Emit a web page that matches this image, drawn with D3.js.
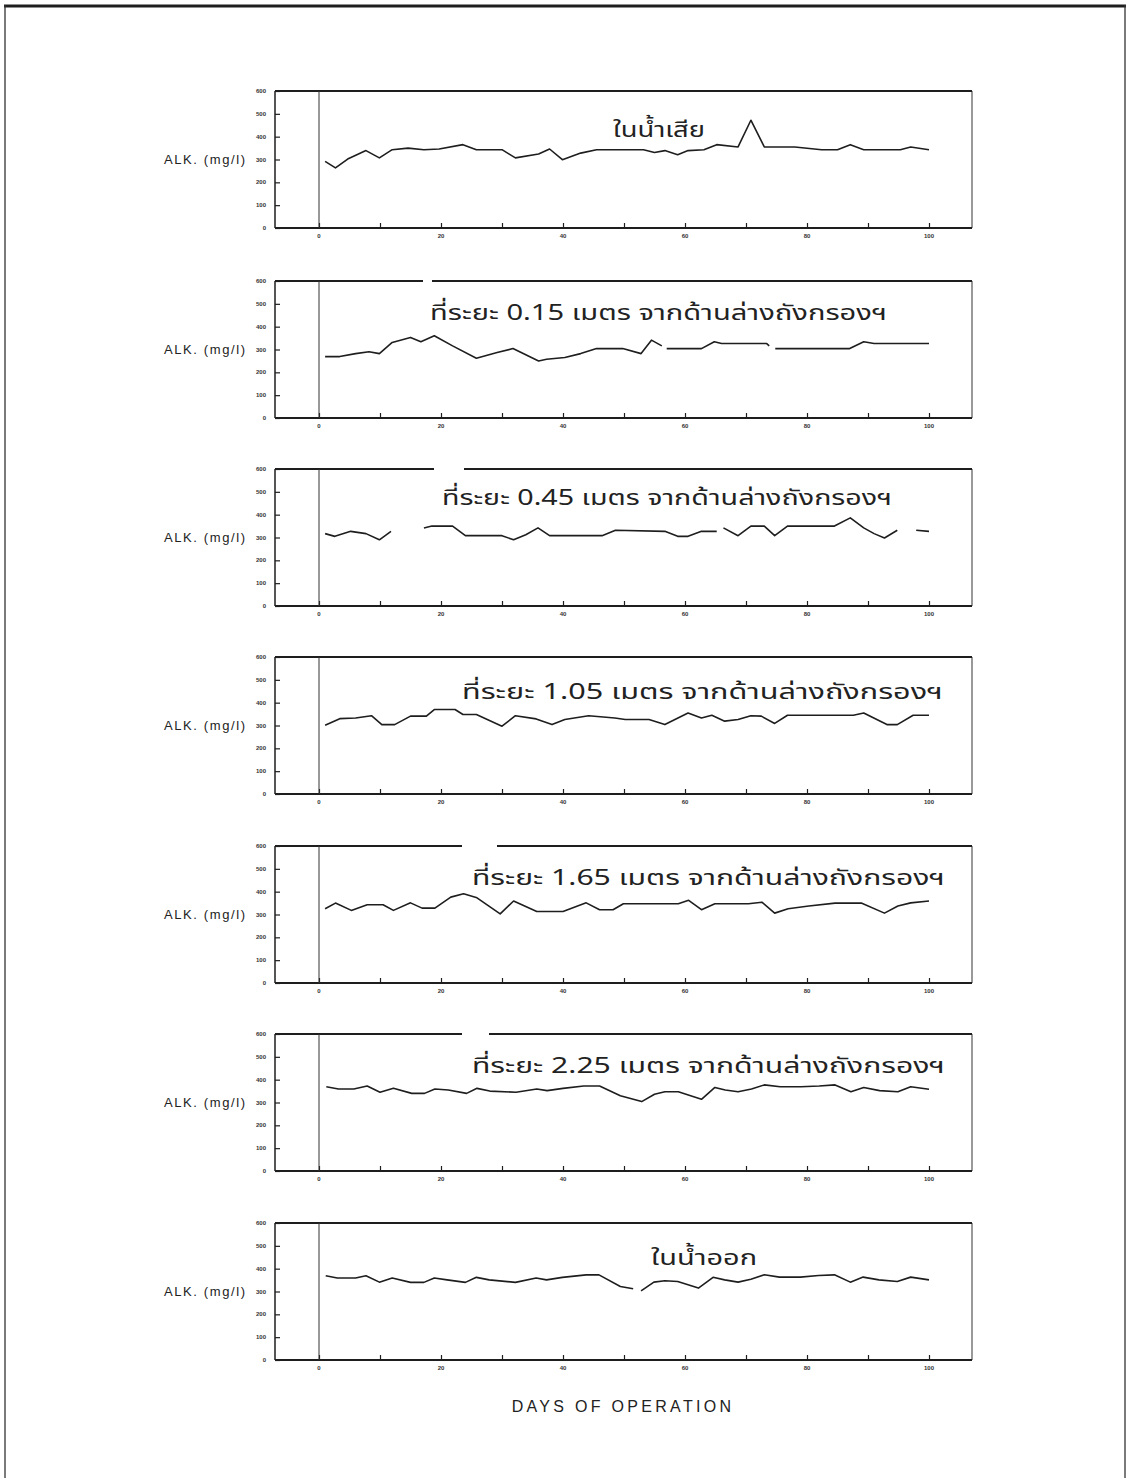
<!DOCTYPE html>
<html>
<head>
<meta charset="utf-8">
<script src="https://cdn.jsdelivr.net/npm/d3@7"></script>
<style>
  html, body { margin: 0; padding: 0; background: #fff; }
  svg { display: block; }
</style>
</head>
<body>
<svg id="chart" width="1130" height="1478"></svg>
<script>
// Alkalinity (mg/l) over days of operation, one panel per sampling point.
// null marks a break in the recorded series.

const panelTitles = [
  "ในน้ำเสีย",
  "ที่ระยะ 0.15 เมตร จากด้านล่างถังกรองฯ",
  "ที่ระยะ 0.45 เมตร จากด้านล่างถังกรองฯ",
  "ที่ระยะ 1.05 เมตร จากด้านล่างถังกรองฯ",
  "ที่ระยะ 1.65 เมตร จากด้านล่างถังกรองฯ",
  "ที่ระยะ 2.25 เมตร จากด้านล่างถังกรองฯ",
  "ในน้ำออก"
];

const yLabel = "ALK. (mg/l)";
const xLabel = "DAYS OF OPERATION";
const yTicks = [0, 100, 200, 300, 400, 500, 600];
const xTicks = [0, 10, 20, 30, 40, 50, 60, 70, 80, 90, 100];
const xTickLabels = [0, 20, 40, 60, 80, 100];

// Influent
const days1 = [1, 2.7, 4.7, 7.7, 9.9, 12, 14.6, 17.2, 19.7, 23.6, 25.8, 30, 32.2, 36, 37.8, 39.9, 42.9, 45.5, 53.2, 55, 56.7, 58.8, 60.5, 63.1, 65.2, 68.7, 70.8, 73, 78, 82.4, 85, 87.1, 89.3, 95.3, 97, 100];
const alk1  = [292, 263, 302, 339, 307, 343, 350, 343, 346, 365, 343, 343, 307, 324, 346, 299, 328, 343, 343, 331, 339, 321, 339, 343, 365, 355, 472, 355, 355, 343, 343, 365, 343, 343, 355, 343];

// 0.15 m from filter bottom
const days2 = [1, 3.4, 6, 8.2, 9.9, 12, 15, 16.7, 18.9, 21.9, 25.8, 29.2, 31.8, 36, 37.3, 40.3, 42.9, 45.5, 49.8, 52.8, 54.5, 56.2, 56.6, 57, 62.7, 64.8, 66, 73.4, 73.8, 74.3, 74.8, 87, 89.3, 91, 100];
const alk2  = [269, 269, 282, 290, 282, 331, 353, 334, 360, 316, 262, 287, 304, 250, 257, 265, 282, 304, 304, 282, 341, 316, null, 304, 304, 334, 326, 326, 316, null, 304, 304, 334, 326, 326];

// 0.45 m from filter bottom
const days3 = [1, 2.6, 5.2, 7.7, 9.9, 11.8, 14, 17.2, 18.5, 21.9, 24, 30, 31.9, 33.9, 35.9, 37.8, 46.4, 48.6, 56.7, 58.8, 60.5, 62.7, 65.2, 65.8, 66.3, 68.7, 70.8, 73, 74.7, 76.8, 84.5, 87.1, 89.3, 91, 92.7, 94.8, 96, 97.9, 100];
const alk3  = [317, 305, 327, 317, 290, 327, null, 342, 350, 350, 308, 308, 290, 312, 342, 308, 308, 332, 327, 305, 305, 327, 327, null, 342, 308, 350, 350, 308, 350, 350, 386, 342, 317, 298, 332, null, 332, 327];

// 1.05 m from filter bottom
const days4 = [1, 3.4, 6, 8.6, 10.3, 12.4, 15, 17.6, 18.9, 22.3, 23.6, 25.8, 30, 32.2, 35.6, 38.2, 40.3, 44.2, 48.5, 50.2, 54.1, 56.7, 60.5, 62.7, 64.4, 66.5, 68.7, 70.8, 72.5, 74.7, 76.8, 87.6, 89.3, 93.1, 94.8, 97.4, 100];
const alk4  = [301, 330, 333, 343, 304, 304, 341, 341, 370, 370, 348, 348, 297, 343, 329, 304, 326, 343, 333, 326, 326, 304, 355, 333, 345, 319, 326, 343, 341, 309, 345, 345, 355, 304, 304, 345, 345];

// 1.65 m from filter bottom
const days5 = [1, 2.7, 5.3, 7.9, 10.5, 12.2, 15, 16.9, 19, 21.6, 23.7, 25.9, 29.7, 31.9, 35.7, 40, 43.8, 46, 48.2, 49.9, 58.9, 60.6, 62.7, 64.9, 70.4, 72.6, 74.7, 76.9, 80.3, 84.6, 88.9, 92.7, 94.9, 97, 100];
const alk5  = [325, 350, 318, 343, 343, 318, 351, 328, 328, 376, 391, 373, 303, 359, 313, 313, 351, 321, 321, 347, 347, 362, 321, 347, 347, 354, 306, 325, 337, 350, 350, 306, 337, 351, 359];

// 2.25 m from filter bottom
const days6 = [1.2, 3.2, 5.7, 7.9, 10, 12.2, 15.2, 17.3, 19, 21.2, 24.2, 25.9, 28, 32.3, 35.7, 37.4, 40, 43.4, 46, 49.4, 52.9, 55, 56.7, 58.9, 62.7, 64.9, 66.6, 68.7, 70.9, 73, 75.6, 79, 82, 84.6, 87.2, 89.3, 91.9, 94.9, 97, 100];
const alk6  = [369, 359, 359, 372, 345, 362, 340, 340, 359, 355, 340, 362, 350, 345, 359, 352, 362, 372, 372, 330, 304, 336, 347, 347, 314, 366, 355, 347, 359, 377, 369, 369, 372, 377, 347, 366, 352, 347, 369, 358];

// Effluent
const days7 = [1.1, 3, 6, 7.7, 9.9, 12, 15, 17.2, 18.9, 21, 24, 25.8, 27.9, 32.2, 35.6, 37.3, 39.9, 43.8, 45.9, 49.4, 51.5, 52.1, 52.8, 54.9, 56.7, 58.8, 62.2, 64.6, 66.5, 68.7, 70.8, 73, 75.5, 78.9, 81.9, 84.5, 87.1, 89.2, 91.8, 94.8, 97, 100];
const alk7  = [369, 359, 359, 369, 341, 359, 340, 340, 359, 351, 340, 362, 351, 340, 359, 351, 362, 373, 373, 322, 312, null, 303, 341, 347, 344, 315, 362, 351, 341, 354, 373, 363, 363, 370, 373, 341, 363, 351, 344, 363, 351];

const seriesDays = [days1, days2, days3, days4, days5, days6, days7];
const seriesAlk  = [alk1, alk2, alk3, alk4, alk5, alk6, alk7];

// ---- layout ----
const panelTops = [91, 281, 469, 657, 846, 1034, 1223];
const panelH = 137;
const frameLeft = 275, frameRight = 972;
const day0X = 319, day100X = 929;

// title placement: [left x, baseline y, width]
const titleBoxes = [
  [613, 137, 92],
  [430, 320, 457],
  [442, 505, 450],
  [462, 699, 481],
  [472, 885, 473],
  [472, 1073, 473],
  [651, 1265, 106]
];
// gaps in the top frame line behind the raised Thai marks
const topGaps = [null, [423, 432], [434, 464], null, [462, 497], [462, 489], null];

const ink = "#1e1e1e";
const svg = d3.select("#chart");

// page frame
svg.append("line").attr("x1", 4).attr("x2", 1126).attr("y1", 6).attr("y2", 6)
  .attr("stroke", ink).attr("stroke-width", 3);
svg.append("line").attr("x1", 5).attr("x2", 5).attr("y1", 5).attr("y2", 1478)
  .attr("stroke", "#333").attr("stroke-width", 1.3);
svg.append("line").attr("x1", 1125).attr("x2", 1125).attr("y1", 5).attr("y2", 1478)
  .attr("stroke", "#333").attr("stroke-width", 1.3);

const x = d3.scaleLinear().domain([0, 100]).range([day0X, day100X]);

seriesAlk.forEach((vals, i) => {
  const top = panelTops[i];
  const bottom = top + panelH;
  const y = d3.scaleLinear().domain([0, 600]).range([bottom, top]);
  const g = svg.append("g");

  // frame: thick bottom and top, left axis, thin right edge
  g.append("line").attr("x1", frameRight).attr("x2", frameRight).attr("y1", top).attr("y2", bottom)
    .attr("stroke", "#444").attr("stroke-width", 1.1);

  const yAxis = d3.axisRight(y).tickValues(yTicks).tickSize(5).tickFormat("");
  g.append("g").attr("transform", `translate(${frameLeft},0)`).call(yAxis)
    .call(s => s.select(".domain").remove())
    .selectAll("line").attr("stroke", ink).attr("stroke-width", 1.2);
  g.append("line").attr("x1", frameLeft).attr("x2", frameLeft).attr("y1", top).attr("y2", bottom)
    .attr("stroke", ink).attr("stroke-width", 1.5);

  g.selectAll(".ylab").data(yTicks).join("text")
    .attr("x", frameLeft - 9).attr("y", d => y(d) + 2)
    .attr("text-anchor", "end")
    .attr("font-family", "Liberation Sans, Arial, sans-serif")
    .attr("font-size", 6).attr("font-weight", "bold").attr("fill", "#333")
    .text(d => d);

  const xAxis = d3.axisTop(x).tickValues(xTicks).tickSize(5).tickFormat("");
  g.append("g").attr("transform", `translate(0,${bottom})`).call(xAxis)
    .call(s => s.select(".domain").remove())
    .selectAll("line").attr("stroke", ink).attr("stroke-width", 1.2);

  g.selectAll(".xlab").data(xTickLabels).join("text")
    .attr("x", d => x(d)).attr("y", bottom + 10)
    .attr("text-anchor", "middle")
    .attr("font-family", "Liberation Sans, Arial, sans-serif")
    .attr("font-size", 6).attr("font-weight", "bold").attr("fill", "#333")
    .text(d => d);

  g.append("line").attr("x1", frameLeft).attr("x2", frameRight).attr("y1", bottom).attr("y2", bottom)
    .attr("stroke", ink).attr("stroke-width", 2.2);
  g.append("line").attr("x1", frameLeft).attr("x2", frameRight).attr("y1", top).attr("y2", top)
    .attr("stroke", ink).attr("stroke-width", 2.2);
  if (topGaps[i]) {
    g.append("rect").attr("x", topGaps[i][0]).attr("y", top - 3)
      .attr("width", topGaps[i][1] - topGaps[i][0]).attr("height", 6).attr("fill", "#fff");
  }

  // day-0 marker
  g.append("line").attr("x1", x(0)).attr("x2", x(0)).attr("y1", top).attr("y2", bottom)
    .attr("stroke", "#333").attr("stroke-width", 1);

  // y-axis title
  g.append("text")
    .attr("x", 164).attr("y", y(300) + 4)
    .attr("font-family", "Liberation Sans, Arial, sans-serif")
    .attr("font-size", 13).attr("letter-spacing", 1.6).attr("fill", "#222")
    .text(yLabel);

  // data line
  const pts = seriesDays[i].map((d, k) => ({ day: d, v: vals[k] }));
  const line = d3.line().defined(p => p.v !== null).x(p => x(p.day)).y(p => y(p.v));
  g.append("path").attr("d", line(pts))
    .attr("fill", "none").attr("stroke", ink).attr("stroke-width", 1.6)
    .attr("stroke-linejoin", "round");

  // panel title
  const tb = titleBoxes[i];
  g.append("text")
    .attr("x", tb[0]).attr("y", tb[1])
    .attr("font-family", "'Noto Sans Thai', 'Loma', 'Garuda', 'Norasi', 'Tlwg Typo', sans-serif")
    .attr("font-size", 22).attr("fill", "#222")
    .attr("textLength", tb[2]).attr("lengthAdjust", "spacingAndGlyphs")
    .text(panelTitles[i]);
});

// x-axis title
svg.append("text")
  .attr("x", 623).attr("y", 1412)
  .attr("text-anchor", "middle")
  .attr("font-family", "Liberation Sans, Arial, sans-serif")
  .attr("font-size", 16).attr("letter-spacing", 3.3).attr("fill", "#222")
  .text(xLabel);
</script>
</body>
</html>
